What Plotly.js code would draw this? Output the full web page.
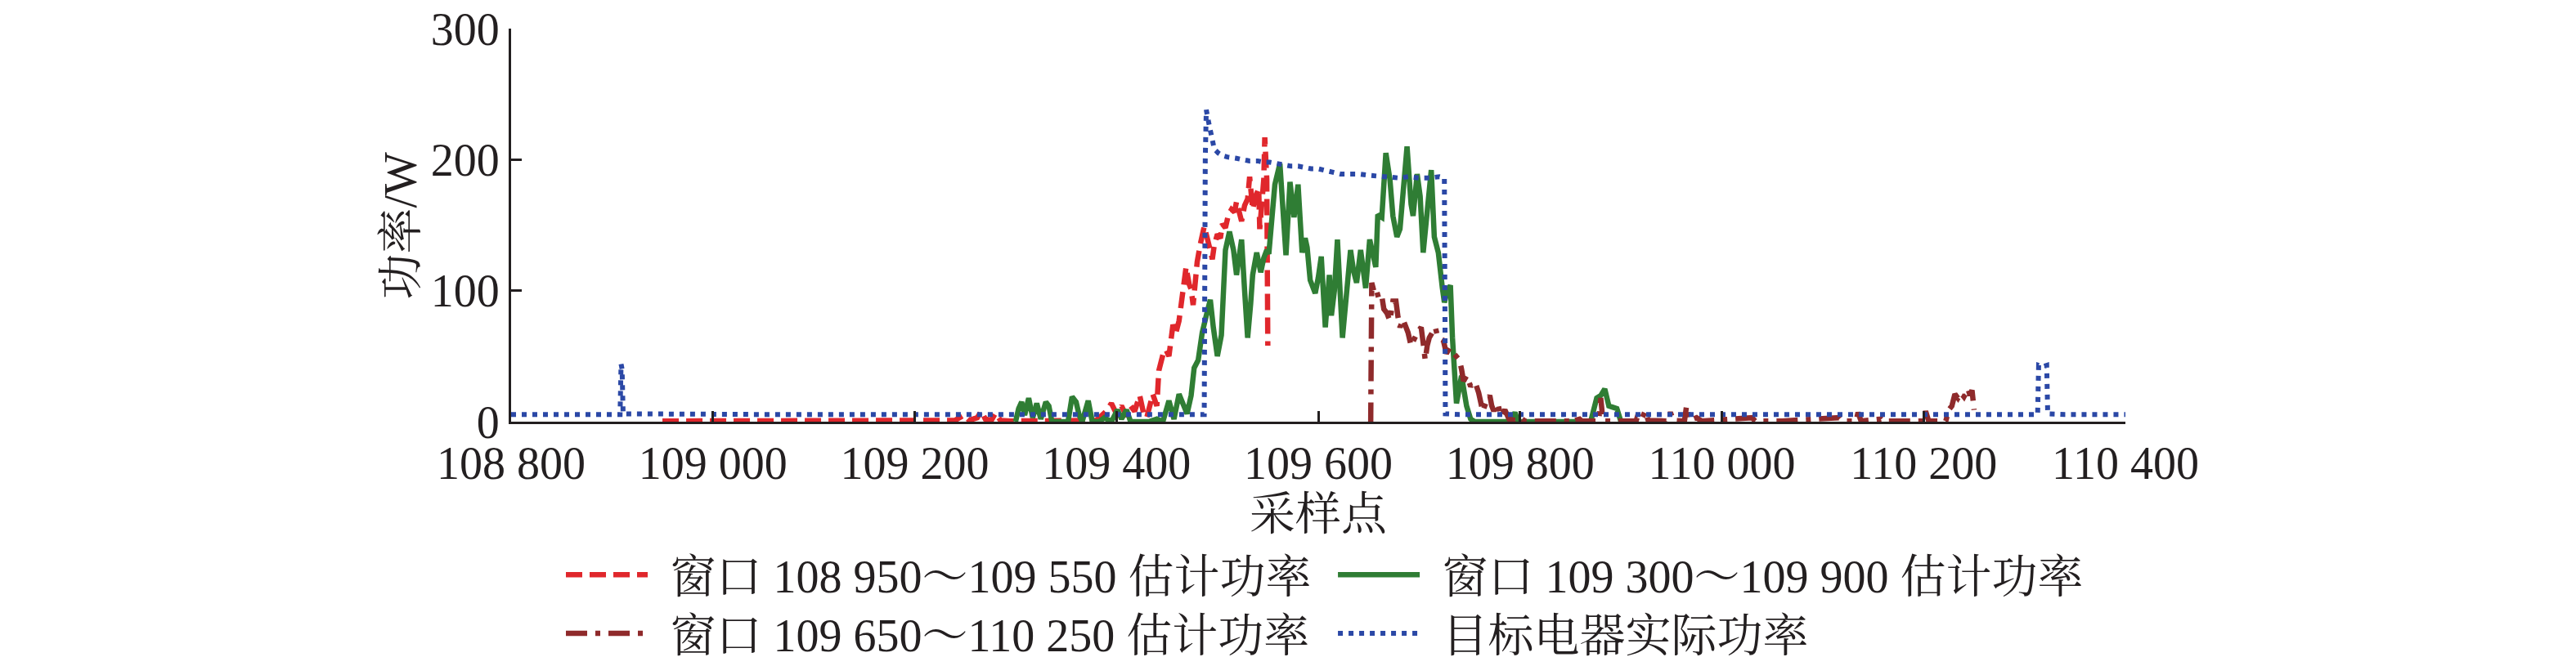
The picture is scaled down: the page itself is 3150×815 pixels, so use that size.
<!DOCTYPE html>
<html>
<head>
<meta charset="utf-8">
<script src="https://cdn.plot.ly/plotly-3.0.1.min.js"></script>
<style>
  html, body { margin: 0; padding: 0; background: #fff; }
  #chart { width: 3150px; height: 815px; }
</style>
</head>
<body>
<div id="chart"></div>
<script>
// axis ticks
const xTickVals = [108800, 109000, 109200, 109400, 109600, 109800, 110000, 110200, 110400];
const xTickText = ['108 800', '109 000', '109 200', '109 400', '109 600', '109 800', '110 000', '110 200', '110 400'];
const yTickVals = [0, 100, 200, 300];

// window 108 950~109 550 estimate (red dashed)
const redX = [108950, 109000, 109100, 109200, 109235, 109240, 109249, 109254, 109262, 109266, 109270, 109276, 109280, 109285, 109295,
  109340, 109380, 109390, 109395, 109400, 109405, 109410, 109414, 109418, 109423, 109427, 109430, 109436, 109440, 109442,
  109446, 109449, 109452, 109456, 109459, 109462, 109464, 109466, 109469, 109472, 109474, 109476, 109478, 109480, 109483,
  109487, 109490, 109492, 109495, 109497, 109500, 109503, 109505, 109508, 109511, 109514, 109517, 109519, 109522, 109524,
  109527, 109530, 109532, 109535, 109538, 109541, 109542, 109544, 109546, 109547, 109548, 109549, 109550];
const redY = [0.5, 0.5, 0.5, 0.5, 0.5, 1, 5, 1, 3, 8, 2, 1, 6.5, 1, 0.5,
  0.5, 1, 8, 14, 6, 12, 4, 12, 8, 20, 6, 3, 21, 12, 39,
  51, 55, 50, 74, 68, 77, 90, 97, 118, 105, 101, 89, 110, 122, 135,
  149, 140, 133, 124, 135, 143, 140, 151, 148, 158, 162, 160, 168, 160, 153,
  165, 170, 187, 162, 172, 178, 147, 170, 185, 217, 200, 185, 58];

// window 109 300~109 900 estimate (green solid)
const greenX = [109300, 109303, 109306, 109309, 109313, 109317, 109321, 109325, 109330, 109333, 109336, 109344, 109352, 109356,
  109360, 109363, 109366, 109372, 109376, 109383, 109388, 109395, 109401, 109405, 109410, 109414, 109420, 109432, 109440,
  109446, 109452, 109457, 109462, 109466, 109470, 109474, 109477, 109481, 109485, 109489, 109493, 109496, 109500, 109504,
  109506, 109508, 109512, 109516, 109519, 109522, 109524, 109527, 109530, 109533, 109535, 109539, 109541, 109543, 109546,
  109549, 109551, 109554, 109557, 109562, 109565, 109568, 109572, 109576, 109580, 109584, 109587, 109589, 109592, 109597,
  109600, 109603, 109607, 109611, 109613, 109616, 109619, 109622, 109624, 109627, 109632, 109635, 109638, 109642, 109645,
  109647, 109651, 109654, 109657, 109659, 109663, 109667, 109671, 109674, 109678, 109681, 109683, 109688, 109692, 109694,
  109698, 109701, 109704, 109708, 109712, 109715, 109719, 109723, 109725, 109728, 109731, 109733, 109737, 109742, 109747,
  109751, 109755, 109790, 109795, 109798, 109870, 109876, 109880, 109884, 109888, 109892, 109896, 109900];
const greenY = [0, 10, 15, 5, 18, 3, 14, 2, 15, 12, 0, 0, 0, 19,
  15, 5, 0, 16, 0, 0, 3, 0, 9, 2, 9, 0, 0, 0, 2,
  0, 16, 2, 21, 14, 6, 20, 41, 47, 68, 81, 93, 72, 50, 66,
  100, 131, 145, 131, 112, 125, 139, 100, 64, 90, 112, 129, 120, 114, 125,
  131, 128, 150, 181, 197, 165, 127, 183, 156, 181, 129, 140, 133, 108, 98,
  110, 126, 72, 112, 81, 100, 139, 100, 64, 89, 131, 115, 106, 131, 115,
  102, 139, 130, 118, 158, 156, 205, 185, 157, 141, 147, 168, 210, 166, 157,
  189, 172, 129, 164, 192, 141, 129, 102, 91, 100, 104, 64, 14, 35, 12,
  2, 0, 0, 7, 0, 0, 18, 20, 25, 12, 11, 10, 0];

// window 109 650~110 250 estimate (dark red dash-dot)
const darkRedX = [109650, 109652, 109653, 109655, 109657, 109660, 109663, 109665, 109668, 109671, 109674, 109677, 109679, 109681,
  109684, 109686, 109689, 109692, 109695, 109697, 109700, 109702, 109704, 109706, 109708, 109710, 109713, 109716, 109718,
  109720, 109724, 109727, 109730, 109732, 109736, 109740, 109742, 109744, 109747, 109751, 109754, 109756, 109759, 109761,
  109763, 109766, 109770, 109772, 109774, 109776, 109778, 109781, 109785, 109789, 109795, 109800, 109805, 109849, 109850,
  109852, 109859, 109861, 109878, 109880, 109882, 109884, 109915, 109916, 109920, 109924, 109927, 109945, 109949, 109952,
  109963, 109965, 109968, 109975, 109980, 110030, 110033, 110060, 110116, 110119, 110133, 110135, 110138, 110158, 110160,
  110200, 110202, 110205, 110222, 110225, 110228, 110231, 110234, 110237, 110240, 110244, 110246, 110248, 110250];
const darkRedY = [0, 0, 106, 100, 102, 94, 96, 86, 83, 77, 92, 92, 80, 72,
  78, 74, 68, 58, 64, 66, 70, 72, 60, 47, 58, 64, 68, 72, 66,
  64, 62, 52, 56, 54, 50, 47, 40, 31, 35, 27, 30, 29, 22, 15,
  8, 14, 20, 12, 8, 12, 14, 4, 9, 2, 1, 3, 0.5, 0.5, 2,
  0.5, 2, 0.5, 0.5, 18, 2, 0.5, 0.5, 3, 1, 8, 1, 0.5, 7, 1,
  0.5, 12, 1, 3, 0.5, 3, 0.5, 0.5, 3, 0.5, 0.5, 7, 0.5, 2, 0.5,
  0.5, 8, 0.5, 0.5, 9, 12, 21, 18, 22, 19, 25, 20, 24, 9];

// actual power of the target appliance (blue dotted)
const blueX = [108800, 108850, 108908, 108909, 108910, 108911, 108960, 109050, 109150, 109250, 109350, 109450, 109487, 109488,
  109489, 109492, 109495, 109497, 109501, 109505, 109510, 109515, 109519, 109525, 109532, 109540, 109546, 109552, 109559,
  109566, 109573, 109580, 109586, 109593, 109600, 109610, 109622, 109630, 109640, 109650, 109662, 109670, 109680, 109690,
  109700, 109710, 109720, 109725, 109726, 109740, 109850, 109950, 110050, 110150, 110250, 110313, 110314, 110318, 110322,
  110323, 110340, 110400];
const blueY = [5.5, 5.5, 5.5, 44, 40, 6, 5.5, 5.5, 5.5, 5.5, 5.5, 5.5, 5.5, 200,
  238, 226, 212, 208, 205, 203, 202, 201, 201, 200, 199, 199, 198, 198, 197,
  196, 195, 195, 194, 193, 193, 191, 189, 189, 189, 188, 187, 187, 186, 187,
  186, 186, 187, 186, 6, 5.5, 5.5, 5.5, 5.5, 5.5, 5.5, 5.5, 43, 42, 43,
  6, 5.5, 5.5];

const serif = 'Liberation Serif, Times New Roman, Noto Serif CJK SC, Noto Sans CJK SC, serif';
const gap = '\u2009\u2009';

const traces = [
  {
    type: 'scatter', mode: 'lines', x: redX, y: redY,
    name: gap + '窗口 108 950～109 550 估计功率', legend: 'legend',
    line: { color: '#e0272c', width: 6.5, dash: '20px,9px' }
  },
  {
    type: 'scatter', mode: 'lines', x: greenX, y: greenY,
    name: gap + '窗口 109 300～109 900 估计功率', legend: 'legend2',
    line: { color: '#2f7d34', width: 6.5 }
  },
  {
    type: 'scatter', mode: 'lines', x: darkRedX, y: darkRedY,
    name: gap + '窗口 109 650～110 250 估计功率', legend: 'legend3',
    line: { color: '#8f2a2b', width: 6.5, dash: '26px,10px,6px,10px' }
  },
  {
    type: 'scatter', mode: 'lines', x: blueX, y: blueY,
    name: gap + '目标电器实际功率', legend: 'legend4',
    line: { color: '#2b48a6', width: 6, dash: '6px,7px' }
  }
];

function legendAt(x, y) {
  return {
    x: x, y: y, xref: 'container', yref: 'container',
    xanchor: 'left', yanchor: 'middle',
    bgcolor: 'rgba(0,0,0,0)', borderwidth: 0,
    itemwidth: 100,
    font: { family: serif, size: 56, color: '#231f20' }
  };
}

const axisFont = { family: serif, size: 56, color: '#231f20' };

const layout = {
  width: 3150,
  height: 815,
  paper_bgcolor: '#ffffff',
  plot_bgcolor: '#ffffff',
  margin: { l: 625, r: 551, t: 35, b: 299, autoexpand: false },
  showlegend: true,
  xaxis: {
    range: [108800, 110400],
    tickvals: xTickVals,
    ticktext: xTickText,
    ticks: 'inside', ticklen: 13, tickwidth: 3, tickcolor: '#231f20',
    showline: true, linewidth: 3, linecolor: '#231f20',
    showgrid: false, zeroline: false,
    tickfont: axisFont,
    title: { text: '采样点', font: axisFont, standoff: 10 }
  },
  yaxis: {
    range: [0, 300],
    tickvals: yTickVals,
    ticks: 'inside', ticklen: 13, tickwidth: 3, tickcolor: '#231f20',
    showline: true, linewidth: 3, linecolor: '#231f20',
    showgrid: false, zeroline: false,
    tickfont: axisFont
  },
  // y-axis title as a rotated annotation so it sits left of the tick labels
  annotations: [{
    text: '功率/W', textangle: -90, showarrow: false,
    xref: 'paper', yref: 'paper', x: -0.0684, y: 0.5,
    xanchor: 'center', yanchor: 'middle',
    font: axisFont
  }],
  legend: legendAt(0.2181, 0.137),
  legend2: legendAt(0.5178, 0.137),
  legend3: legendAt(0.2181, 0.049),
  legend4: legendAt(0.5178, 0.049)
};

Plotly.newPlot('chart', traces, layout, { displayModeBar: false, responsive: false });
</script>
</body>
</html>
